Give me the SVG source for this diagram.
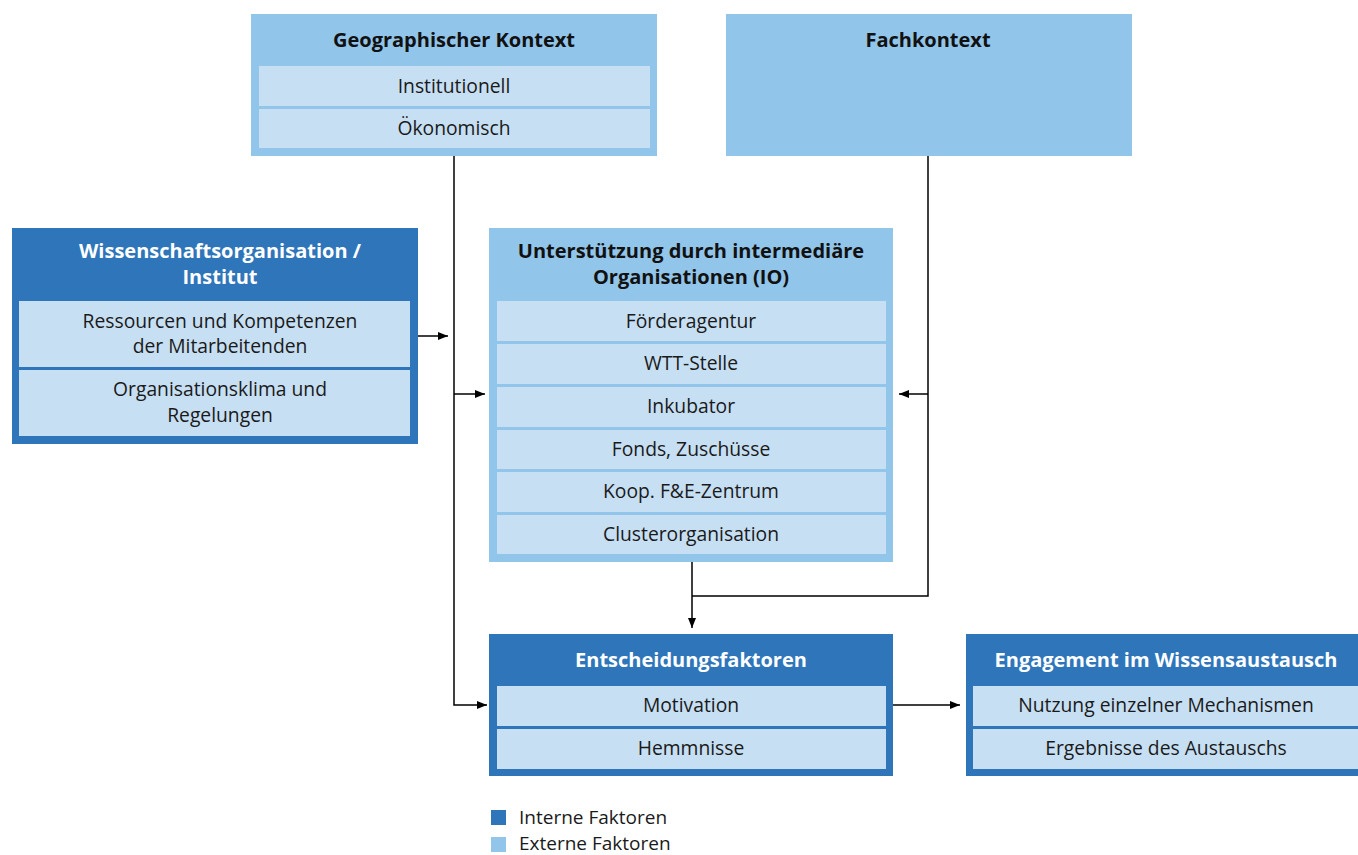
<svg xmlns="http://www.w3.org/2000/svg" width="1358" height="855" viewBox="0 0 1358 855">
<defs>
<marker id="ah" viewBox="0 0 10 10" refX="10" refY="5" markerWidth="10" markerHeight="10" markerUnits="userSpaceOnUse" orient="auto">
<path d="M0,1 L10,5 L0,9 Z" fill="#000"/>
</marker>
<style>
.dark{fill:#2E75BA}
.light{fill:#92C5EA}
.row{fill:#C7DFF3}
.t{font-family:"Open Sans","Noto Sans",sans-serif;font-size:19.3px;fill:#1a1a1a;text-anchor:middle}
.h{font-family:"Open Sans","Noto Sans",sans-serif;font-size:20px;font-weight:bold;text-anchor:middle}
.hw{fill:#fff}
.hb{fill:#111}
.c{fill:none;stroke:#000;stroke-width:1.5}
.lg{font-family:"Open Sans","Noto Sans",sans-serif;font-size:19px;fill:#1a1a1a}
</style>
</defs>
<rect width="1358" height="855" fill="#fff"/>

<g id="geo">
<rect class="light" x="251" y="14" width="406" height="142"/>
<text class="h hb" x="454" y="47">Geographischer Kontext</text>
<rect class="row" x="259" y="66" width="391" height="40"/>
<text class="t" x="454" y="93">Institutionell</text>
<rect class="row" x="259" y="109" width="391" height="39"/>
<text class="t" x="454" y="135">Ökonomisch</text>
</g>

<g id="fach">
<rect class="light" x="726" y="14" width="406" height="142"/>
<text class="h hb" x="928" y="47">Fachkontext</text>
</g>

<g id="wiss">
<rect class="dark" x="12" y="228" width="406" height="216"/>
<text class="h hw" x="220" y="258">Wissenschaftsorganisation /</text>
<text class="h hw" x="220" y="284">Institut</text>
<rect class="row" x="19" y="301" width="391" height="66"/>
<text class="t" x="220" y="328">Ressourcen und Kompetenzen</text>
<text class="t" x="220" y="353">der Mitarbeitenden</text>
<rect class="row" x="19" y="370" width="391" height="66"/>
<text class="t" x="220" y="396">Organisationsklima und</text>
<text class="t" x="220" y="422">Regelungen</text>
</g>

<g id="io">
<rect class="light" x="489" y="228" width="404" height="334"/>
<text class="h hb" x="691" y="258">Unterstützung durch intermediäre</text>
<text class="h hb" x="691" y="284">Organisationen (IO)</text>
<rect class="row" x="497" y="301" width="389" height="40"/>
<text class="t" x="691" y="328">Förderagentur</text>
<rect class="row" x="497" y="344" width="389" height="40"/>
<text class="t" x="691" y="370">WTT-Stelle</text>
<rect class="row" x="497" y="387" width="389" height="40"/>
<text class="t" x="691" y="413">Inkubator</text>
<rect class="row" x="497" y="430" width="389" height="39"/>
<text class="t" x="691" y="456">Fonds, Zuschüsse</text>
<rect class="row" x="497" y="472" width="389" height="40"/>
<text class="t" x="691" y="498">Koop. F&amp;E-Zentrum</text>
<rect class="row" x="497" y="515" width="389" height="39"/>
<text class="t" x="691" y="541">Clusterorganisation</text>
</g>

<g id="entsch">
<rect class="dark" x="489" y="634" width="404" height="142"/>
<text class="h hw" x="691" y="667">Entscheidungsfaktoren</text>
<rect class="row" x="497" y="686" width="389" height="40"/>
<text class="t" x="691" y="712">Motivation</text>
<rect class="row" x="497" y="729" width="389" height="40"/>
<text class="t" x="691" y="755">Hemmnisse</text>
</g>

<g id="engag">
<rect class="dark" x="966" y="634" width="392" height="142"/>
<text class="h hw" x="1166" y="667">Engagement im Wissensaustausch</text>
<rect class="row" x="973" y="686" width="385" height="40"/>
<text class="t" x="1166" y="712">Nutzung einzelner Mechanismen</text>
<rect class="row" x="973" y="729" width="385" height="40"/>
<text class="t" x="1166" y="755">Ergebnisse des Austauschs</text>
</g>

<g id="connectors">
<path class="c" d="M454,156 V705 H487" marker-end="url(#ah)"/>
<path class="c" d="M454,394 H485" marker-end="url(#ah)"/>
<path class="c" d="M418,336 H448" marker-end="url(#ah)"/>
<path class="c" d="M928,156 V596 H692"/>
<path class="c" d="M928,394 H899" marker-end="url(#ah)"/>
<path class="c" d="M692,562 V628" marker-end="url(#ah)"/>
<path class="c" d="M893,705 H960" marker-end="url(#ah)"/>
</g>

<g id="legend">
<rect class="dark" x="491" y="810" width="15" height="15"/>
<text class="lg" x="519" y="824">Interne Faktoren</text>
<rect class="light" x="491" y="837" width="15" height="15"/>
<text class="lg" x="519" y="850">Externe Faktoren</text>
</g>
</svg>
